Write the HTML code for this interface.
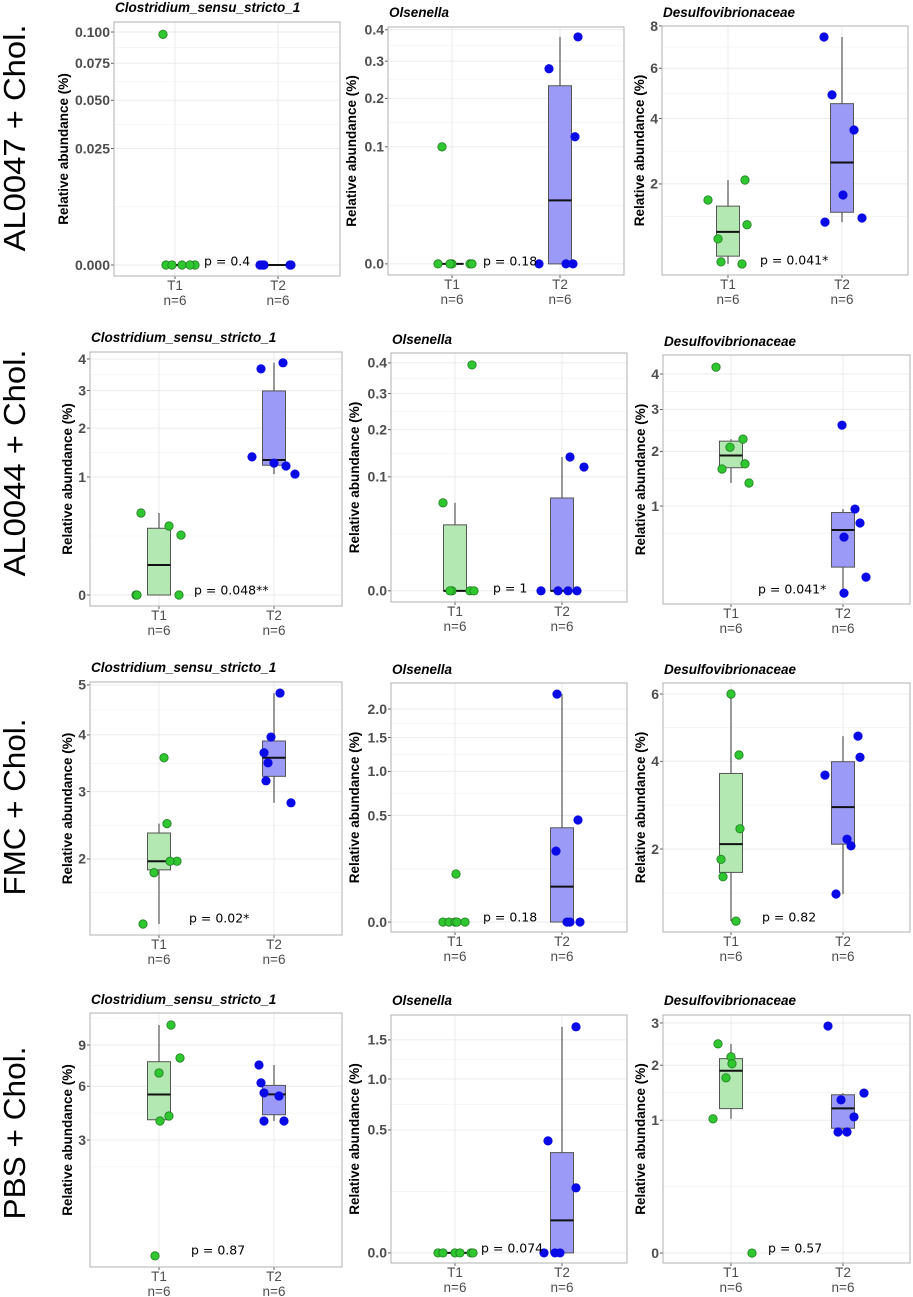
<!DOCTYPE html>
<html><head><meta charset="utf-8">
<style>
html,body{margin:0;padding:0;background:#fff;}
svg{display:block;}
</style></head>
<body>
<svg id="chart" width="913" height="1297" viewBox="0 0 913 1297" xmlns="http://www.w3.org/2000/svg"></svg>
<script>
// ---------- DATA (values in %) ----------
const rowLabels = ["AL0047 + Chol.", "AL0044 + Chol.", "FMC + Chol.", "PBS + Chol."];
const taxa = ["Clostridium_sensu_stricto_1", "Olsenella", "Desulfovibrionaceae"];
const groups = ["T1", "T2"];
const groupN = ["n=6", "n=6"];

const t1Values = [
  [0, 0, 0, 0, 0, 0.098],
  [0.1, 0, 0, 0, 0, 0],
  [1.615, 2.10, 1.10, 0.85, 0.513, 0.487],
  [0.483, 0.342, 0.258, 0, 0, 0],
  [0.393, 0.0596, 0, 0, 0, 0],
  [4.21, 2.09, 2.27, 1.74, 1.64, 1.38],
  [3.58, 2.50, 1.97, 1.97, 1.82, 1.225],
  [0.102, 0, 0, 0, 0, 0],
  [6.0, 4.17, 2.40, 1.81, 1.51, 0.87],
  [10.67, 7.99, 6.90, 4.21, 3.94, 0.034],
  [0, 0, 0, 0, 0, 0],
  [2.48, 2.18, 2.03, 1.74, 1.02, 0]
];
const t2Values = [
  [0, 0, 0, 0, 0, 0],
  [0.376, 0.278, 0.118, 0, 0, 0],
  [7.45, 4.89, 3.60, 1.73, 1.15, 1.23],
  [3.67, 3.87, 1.37, 1.25, 1.195, 1.05],
  [0.138, 0.118, 0, 0, 0, 0],
  [2.60, 0.955, 0.76, 0.585, 0.213, 0.116],
  [4.83, 3.96, 3.67, 3.49, 3.18, 2.82],
  [2.29, 0.459, 0.222, 0, 0, 0],
  [4.70, 4.11, 3.64, 2.19, 2.06, 1.24],
  [7.47, 6.22, 5.57, 5.38, 3.94, 3.94],
  [1.69, 0.415, 0.14, 0, 0, 0],
  [2.92, 1.45, 1.33, 1.05, 0.83, 0.83]
];
const t1Jitter = [
  [20,-9,-3,7,15,-12],[-10,-14,0,-2,18,20],[-20,17,19,-10,-7,14],
  [-18,10,22,-23,-22,20],[17,-12,-3,-5,15,19],[-15,-1,12,14,-9,18],
  [5,8,18,11,-5,-16],[1,-12,-6,0,2,10],[0,8,9,-10,-8,5],
  [12,21,0,10,1,-4],[-17,-12,0,5,16,18],[-13,0,1,-5,-18,21]
];
const t2Jitter = [
  [-18,-16,-15,12,13,-14],[18,-11,15,-21,6,13],[-18,-10,12,1,-17,20],
  [-13,9,-22,0,12,21],[8,22,-21,-4,6,15],[-1,12,17,1,23,1],
  [6,-3,-10,-6,-8,17],[-5,16,-6,5,8,18],[15,17,-18,4,8,-7],
  [-15,-13,-10,5,-10,10],[14,-14,14,-18,-7,-2],[-15,21,-2,11,-5,4]
];
const pLabels = ["p = 0.4","p = 0.18","p = 0.041*","p = 0.048**","p = 1","p = 0.041*",
                 "p = 0.02*","p = 0.18","p = 0.82","p = 0.87","p = 0.074","p = 0.57"];
const yTicks = [
  [0,0.025,0.05,0.075,0.1],[0,0.1,0.2,0.3,0.4],[2,4,6,8],
  [0,1,2,3,4],[0,0.1,0.2,0.3,0.4],[1,2,3,4],
  [2,3,4,5],[0,0.5,1,1.5,2],[2,4,6],
  [3,6,9],[0,0.5,1,1.5],[0,1,2,3]
];
const yTickLabels = [
  ["0.000","0.025","0.050","0.075","0.100"],["0.0","0.1","0.2","0.3","0.4"],["2","4","6","8"],
  ["0","1","2","3","4"],["0.0","0.1","0.2","0.3","0.4"],["1","2","3","4"],
  ["2","3","4","5"],["0.0","0.5","1.0","1.5","2.0"],["2","4","6"],
  ["3","6","9"],["0.0","0.5","1.0","1.5"],["0","1","2","3"]
];

// ---------- LAYOUT ----------
const layout = [
  {x0:114,x1:340,y0:22,y1:276,s0:-0.0149,s1:0.3298,c1:175,c2:278,ty:7,px:204,py:261},
  {x0:388,x1:624,y0:27,y1:275,s0:-0.030,s1:0.640,c1:452,c2:560,ty:12,px:483,py:261},
  {x0:662,x1:908,y0:26,y1:275,s0:0.599,s1:2.828,c1:728,c2:842,ty:12,px:760,py:260},
  {x0:90,x1:342,y0:352,y1:606,s0:-0.093,s1:2.059,c1:159,c2:274,ty:337,px:194,py:590},
  {x0:391,x1:627,y0:353,y1:602,s0:-0.031,s1:0.660,c1:455,c2:562,ty:339,px:493,py:588},
  {x0:663,x1:910,y0:355,y1:604,s0:0.258,s1:2.144,c1:731,c2:843,ty:341,px:758,py:589},
  {x0:90,x1:342,y0:682,y1:935,s0:1.055,s1:2.250,c1:159,c2:274,ty:667,px:189,py:918},
  {x0:391,x1:627,y0:683,y1:932,s0:-0.066,s1:1.587,c1:455,c2:562,ty:669,px:483,py:917},
  {x0:663,x1:910,y0:683,y1:932,s0:0.860,s1:2.523,c1:731,c2:843,ty:669,px:762,py:917},
  {x0:90,x1:342,y0:1013,y1:1267,s0:0.036,s1:3.427,c1:159,c2:274,ty:999,px:191,py:1250},
  {x0:391,x1:627,y0:1015,y1:1263,s0:-0.058,s1:1.368,c1:455,c2:562,ty:1000,px:481,py:1248},
  {x0:663,x1:910,y0:1015,y1:1263,s0:-0.075,s1:1.792,c1:731,c2:843,ty:1000,px:768,py:1248}
];
const rowLabelY = [138, 463, 807, 1133];
const rowLabelLen = [227, 227, 177, 173];

const NS = "http://www.w3.org/2000/svg";
const svg = document.getElementById("chart");
function mk(tag, attrs, parent, text){
  const e = document.createElementNS(NS, tag);
  for (const k in attrs) e.setAttribute(k, attrs[k]);
  if (text !== undefined) e.textContent = text;
  (parent || svg).appendChild(e);
  return e;
}
const ssqrt = v => Math.sign(v)*Math.sqrt(Math.abs(v));
function quantile(sorted, p){
  const pos = (sorted.length-1)*p, lo = Math.floor(pos), hi = Math.ceil(pos);
  return sorted[lo] + (sorted[hi]-sorted[lo])*(pos-lo);
}

rowLabels.forEach((lab, r) => {
  const t = mk("text", {x:0, y:0, transform:`translate(25,${rowLabelY[r]}) rotate(-90)`,
    "text-anchor":"middle", "font-family":"Liberation Sans, sans-serif", "font-size":"31",
    textLength:rowLabelLen[r], lengthAdjust:"spacingAndGlyphs", fill:"#000"}, svg, lab);
  
  
});

layout.forEach((L, i) => {
  const g = mk("g", {});
  
  
  const yS = v => L.y1 - (ssqrt(v) - L.s0) / (L.s1 - L.s0) * (L.y1 - L.y0);
  const yFromS = s => L.y1 - (s - L.s0) / (L.s1 - L.s0) * (L.y1 - L.y0);
  mk("rect", {x:L.x0, y:L.y0, width:L.x1-L.x0, height:L.y1-L.y0, fill:"#fff"}, g);
  const tks = yTicks[i].map(ssqrt);
  const step = tks[1]-tks[0];
  const minors = [];
  for (let k=0;k<tks.length-1;k++) minors.push((tks[k]+tks[k+1])/2);
  minors.push(tks[0]-step/2, tks[tks.length-1]+step/2);
  minors.forEach(s => {
    if (s > L.s0 && s < L.s1) {
      const y = yFromS(s);
      mk("line", {x1:L.x0, x2:L.x1, y1:y, y2:y, stroke:"#f4f4f4", "stroke-width":0.8}, g);
    }
  });
  let maxChars = 1;
  yTicks[i].forEach((v, k) => {
    const y = yS(v);
    maxChars = Math.max(maxChars, yTickLabels[i][k].length);
    const gl = mk("line", {x1:L.x0, x2:L.x1, y1:y, y2:y, stroke:"#ebebeb", "stroke-width":1}, g);
    
    
    mk("line", {x1:L.x0-3, x2:L.x0, y1:y, y2:y, stroke:"#333", "stroke-width":0.8}, g);
    const tl = mk("text", {x:L.x0-4, y:y+4.8, "text-anchor":"end", "font-family":"Liberation Sans, sans-serif",
      "font-size":"14", "font-weight":"bold", fill:"#4d4d4d"}, g, yTickLabels[i][k]);
    
    
  });
  [L.c1, L.c2].forEach((cx, gi) => {
    mk("line", {x1:cx, x2:cx, y1:L.y0, y2:L.y1, stroke:"#ebebeb", "stroke-width":1}, g);
    mk("line", {x1:cx, x2:cx, y1:L.y1, y2:L.y1+3, stroke:"#333", "stroke-width":0.8}, g);
    const xl = mk("text", {x:cx, y:L.y1+14, "text-anchor":"middle", "font-family":"Liberation Sans, sans-serif",
      "font-size":"13.5", fill:"#4d4d4d"}, g, groups[gi]);
    
    
    const nl = mk("text", {x:cx, y:L.y1+29, "text-anchor":"middle", "font-family":"Liberation Sans, sans-serif",
      "font-size":"13.5", fill:"#4d4d4d"}, g, groupN[gi]);
    
    
  });
  const sets = [[t1Values[i], t1Jitter[i], L.c1, "#b3e8b3", "#2fc72f", "#1f7a1f"],
                [t2Values[i], t2Jitter[i], L.c2, "#9b9bf7", "#0a0ae6", "#0a0ae6"]];
  sets.forEach(([vals, jit, cx, boxFill], si) => {
    const s = vals.map(ssqrt).sort((a,b)=>a-b);
    const q1 = quantile(s,0.25), med = quantile(s,0.5), q3 = quantile(s,0.75), iqr = q3-q1;
    const lo = Math.min(...s.filter(v => v >= q1-1.5*iqr));
    const hi = Math.max(...s.filter(v => v <= q3+1.5*iqr));
    const hw = 11.5;
    const wl = mk("line", {x1:cx, x2:cx, y1:yFromS(hi), y2:yFromS(q3), stroke:"#555", "stroke-width":1.2}, g);
    
    
    const wl2 = mk("line", {x1:cx, x2:cx, y1:yFromS(q1), y2:yFromS(lo), stroke:"#555", "stroke-width":1.2}, g);
    
    
    const b = mk("rect", {x:cx-hw, y:yFromS(q3), width:hw*2, height:Math.max(0.1, yFromS(q1)-yFromS(q3)),
      fill:boxFill, stroke:"#555", "stroke-width":1}, g);
    
    
    const m = mk("line", {x1:cx-hw, x2:cx+hw, y1:yFromS(med), y2:yFromS(med), stroke:"#111", "stroke-width":2}, g);
    
    
  });
  sets.forEach(([vals, jit, cx, boxFill, fill, stroke], si) => {
    vals.forEach((v, k) => {
      const c = mk("circle", {cx:cx + jit[k], cy:yS(v), r:4.2, fill:fill, stroke:stroke, "stroke-width":0.8}, g);
      
      
    });
  });
  mk("rect", {x:L.x0, y:L.y0, width:L.x1-L.x0, height:L.y1-L.y0, fill:"none", stroke:"#b0b0b0", "stroke-width":1}, g);
  const pt = mk("text", {x:L.px, y:L.py+4.5, "font-family":"DejaVu Sans, sans-serif", "font-size":"12.5", fill:"#000"}, g, pLabels[i]);
  
  
  const tt = mk("text", {x:L.x0+1, y:L.ty+5, "font-family":"Liberation Sans, sans-serif", "font-size":"13.5",
    "font-weight":"bold", "font-style":"italic", fill:"#000"}, g, taxa[i%3]);
  
  
  const yc = (L.y0+L.y1)/2;
  const off = 16 + 7*maxChars;
  const yt = mk("text", {x:0, y:0, transform:`translate(${L.x0-off+5},${yc}) rotate(-90)`, "text-anchor":"middle",
    "font-family":"Liberation Sans, sans-serif", "font-size":"13.5", "font-weight":"bold", fill:"#000"}, g, "Relative abundance (%)");
  
  
});
</script>
</body></html>
